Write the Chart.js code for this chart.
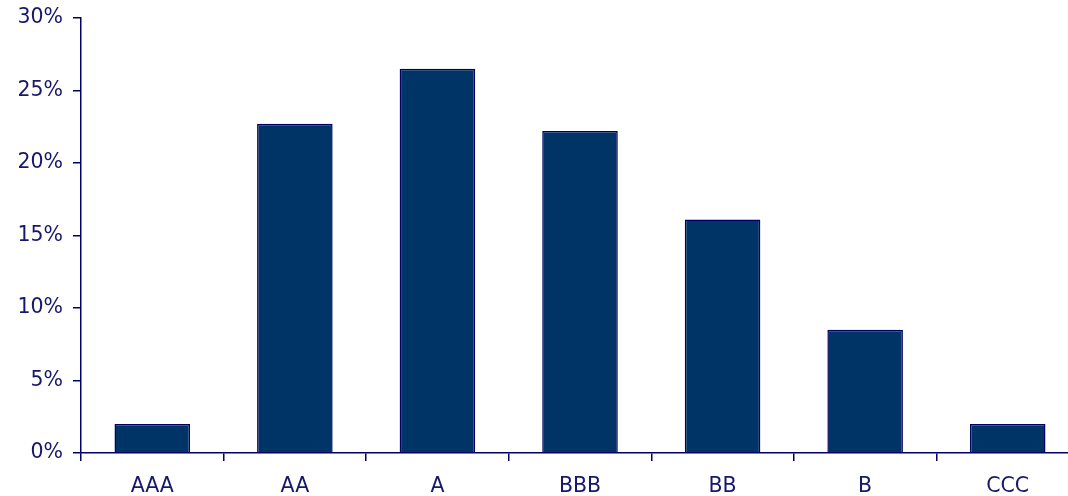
<!DOCTYPE html>
<html>
<head>
<meta charset="utf-8">
<script src="https://cdn.jsdelivr.net/npm/chart.js@4"></script>
<style>
html,body{margin:0;padding:0;background:#fff;overflow:hidden;width:1068px;height:496px;}
#wrap{position:absolute;left:0;top:0;width:1082px;height:496px;}
</style>
</head>
<body>
<div id="wrap"><canvas id="c" width="1082" height="496"></canvas></div>
<script>
const categories = ['AAA', 'AA', 'A', 'BBB', 'BB', 'B', 'CCC'];
const shares = [2.0, 22.7, 26.5, 22.2, 16.1, 8.5, 2.0];
const yTicks = [0, 5, 10, 15, 20, 25, 30];

const navy = '#000066';
const textCol = '#17176c';
const font = {family: '"DejaVu Sans", Verdana, sans-serif', size: 20.5};

new Chart(document.getElementById('c'), {
  type: 'bar',
  data: {
    labels: categories,
    datasets: [{
      data: shares,
      backgroundColor: '#003366',
      borderColor: navy,
      borderWidth: 1.5,
      barPercentage: 0.53,
      categoryPercentage: 1.0
    }]
  },
  options: {
    responsive: false,
    animation: false,
    devicePixelRatio: 1,
    layout: {padding: {top: 18, right: 3, left: 0, bottom: 0}},
    plugins: {legend: {display: false}, tooltip: {enabled: false}},
    scales: {
      x: {
        grid: {display: true, drawOnChartArea: false, drawTicks: true, tickLength: 8, color: navy, lineWidth: 1.5, offset: true},
        border: {display: true, color: navy, width: 1.5},
        ticks: {color: textCol, font: font, padding: 13, maxRotation: 0},
        afterFit: s => { s.height = 43; s.paddingLeft = 0; s.paddingRight = 0; }
      },
      y: {
        min: 0, max: 30,
        afterBuildTicks: s => { s.ticks = yTicks.map(v => ({value: v})); },
        grid: {display: true, drawOnChartArea: false, drawTicks: true, tickLength: 8, color: navy, lineWidth: 1.5},
        border: {display: true, color: navy, width: 1.5},
        ticks: {color: textCol, font: font, padding: 10, callback: v => v + '%'},
        afterFit: s => { s.width = 81; s.paddingTop = 0; s.paddingBottom = 0; }
      }
    }
  }
});
</script>
</body>
</html>
